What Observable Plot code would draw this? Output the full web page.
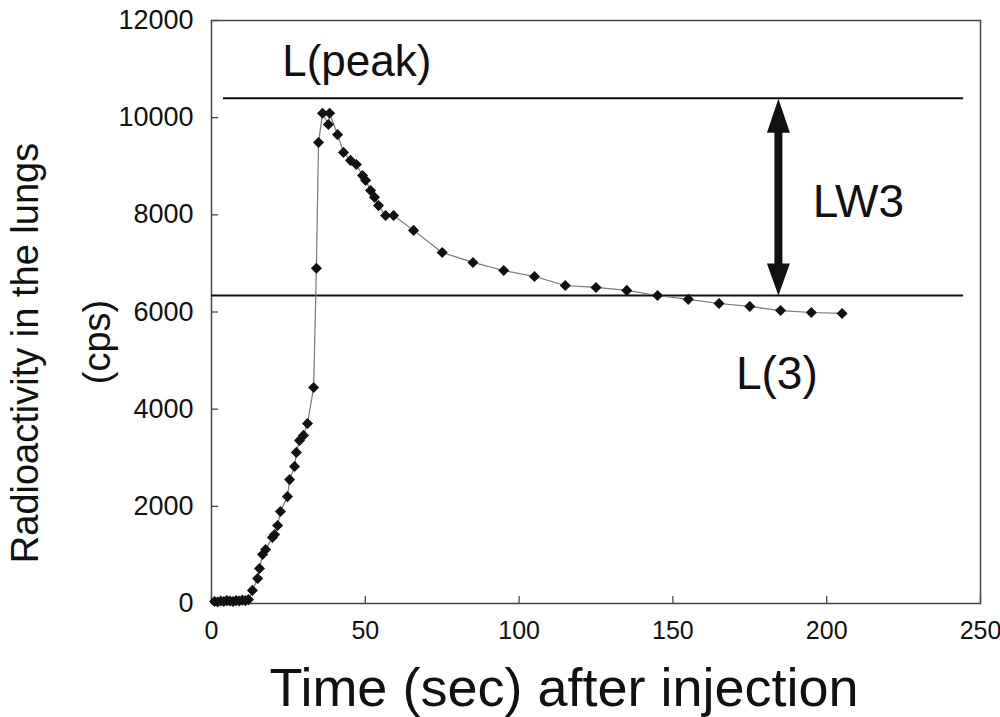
<!DOCTYPE html>
<html><head><meta charset="utf-8">
<script src="https://cdn.jsdelivr.net/npm/d3@7"></script>
<script src="https://cdn.jsdelivr.net/npm/@observablehq/plot@0.6"></script>
<style>html,body{margin:0;padding:0;background:#fff}#chart svg{display:block}</style>
</head><body><div id="chart"></div>
<script>
// Measured series: time (sec) after injection vs. radioactivity (cps)
const time = [1, 2, 3, 4, 5, 6, 7, 8, 9, 10, 11, 12,
  13.3, 15.0, 15.6, 16.6, 17.6, 19.8, 20.5, 21.5, 22.4, 24.7, 25.4, 27.0, 27.6, 28.6, 29.9, 31.2, 33.2,
  34.1, 34.8, 36.1, 38.0, 38.4, 41.0, 42.9, 45.2, 47.1, 49.1, 50.1, 51.7, 53.0, 54.3, 56.6, 59.2, 65.7,
  75, 85, 95, 105, 115, 125, 135, 145, 155, 165, 175, 185, 195, 205];
const activity = [40, 30, 50, 40, 60, 50, 40, 60, 50, 70, 60, 80,
  270, 515, 720, 1010, 1110, 1360, 1420, 1605, 1895, 2200, 2550, 2820, 3110, 3355, 3460, 3705, 4445,
  6900, 9490, 10090, 9860, 10090, 9650, 9285, 9120, 9035, 8810, 8710, 8500, 8360, 8190, 7985, 7985, 7680,
  7225, 7020, 6855, 6730, 6545, 6505, 6445, 6340, 6260, 6175, 6115, 6030, 5990, 5970];

const xTicks = [0, 50, 100, 150, 200, 250];
const yTicks = [0, 2000, 4000, 6000, 8000, 10000, 12000];

// Reference levels
const levelValue = [10400, 6340];          // L(peak), L(3)
const levelFrom = [3.9, 0];
const levelTo = [244.5, 244.5];

// Annotations
const noteText = ["L(peak)", "LW3", "L(3)"];
const noteX = [23, 195.5, 170.5];
const noteY = [11150, 8256, 4718];
const noteSize = [44, 46, 46];

// Double arrow LW3 between the two levels
const arrowX = [184.3];
const arrowBase = [9690, 7000];

const xTitle = "Time (sec) after injection";
const yTitle = ["Radioactivity in the lungs", "(cps)"];

const series = time.map((t, i) => ({t, v: activity[i]}));
const levels = levelValue.map((v, i) => ({v, x1: levelFrom[i], x2: levelTo[i]}));
const notes = noteText.map((s, i) => ({s, x: noteX[i], y: noteY[i], size: noteSize[i]}));
const headShape = {
  draw(context, l) {
    context.moveTo(-11.5, 0);
    context.lineTo(0, -l);
    context.lineTo(11.5, 0);
    context.closePath();
  }
};

const font = "'Liberation Sans', Arial, sans-serif";
const innerW = 1000 - 211 - 20;
const innerH = 717 - 20 - 114;

const chart = Plot.plot({
  width: 1000,
  height: 717,
  marginTop: 20,
  marginRight: 20,
  marginBottom: 114,
  marginLeft: 211,
  style: {fontFamily: font, fontSize: "27px", color: "#111", background: "#fff"},
  x: {domain: [0, 250], label: null},
  y: {domain: [0, 12000], label: null},
  marks: [
    Plot.frame({stroke: "#444", strokeWidth: 1.5}),
    Plot.tickY(yTicks, {y: d => d, stroke: "#444", strokeWidth: 1.3, insetRight: innerW - 7}),
    Plot.tickX(xTicks, {x: d => d, stroke: "#444", strokeWidth: 1.3, insetTop: innerH - 7}),
    Plot.axisY({ticks: yTicks, tickSize: 0, tickPadding: 18, tickFormat: d => String(d), fontSize: 27}),
    Plot.axisX({ticks: xTicks, tickSize: 0, tickPadding: 18, tickFormat: d => String(d), fontSize: 25}),
    Plot.ruleY(levels, {y: "v", x1: "x1", x2: "x2", stroke: "#111", strokeWidth: 2}),
    Plot.line(series, {x: "t", y: "v", stroke: "#777", strokeWidth: 1.2}),
    Plot.dot(series, {x: "t", y: "v", symbol: "diamond2", r: 5, fill: "#111", stroke: "none"}),
    Plot.ruleX(arrowX, {x: d => d, y1: arrowBase[0] + 30, y2: arrowBase[1] - 30, stroke: "#111", strokeWidth: 8}),
    Plot.vector(arrowX, {x: d => d, y: arrowBase[0], length: 34, rotate: 0, anchor: "start", shape: headShape, fill: "#111", stroke: "none"}),
    Plot.vector(arrowX, {x: d => d, y: arrowBase[1], length: 32, rotate: 180, anchor: "start", shape: headShape, fill: "#111", stroke: "none"}),
    Plot.text(notes, {x: "x", y: "y", text: "s", textAnchor: "start", fontSize: "size", fill: "#111"}),
    Plot.text([xTitle], {frameAnchor: "bottom", lineAnchor: "middle", text: d => d, dx: -32, dy: 85, fontSize: 54, fill: "#111"}),
    Plot.text([yTitle[0]], {frameAnchor: "left", textAnchor: "middle", lineAnchor: "middle", text: d => d, rotate: -90, dx: -186, dy: 41, fontSize: 38, fill: "#111"}),
    Plot.text([yTitle[1]], {frameAnchor: "left", textAnchor: "middle", lineAnchor: "middle", text: d => d, rotate: -90, dx: -114, dy: 30, fontSize: 38, fill: "#111"})
  ]
});
document.getElementById("chart").appendChild(chart);
</script>
</body></html>
